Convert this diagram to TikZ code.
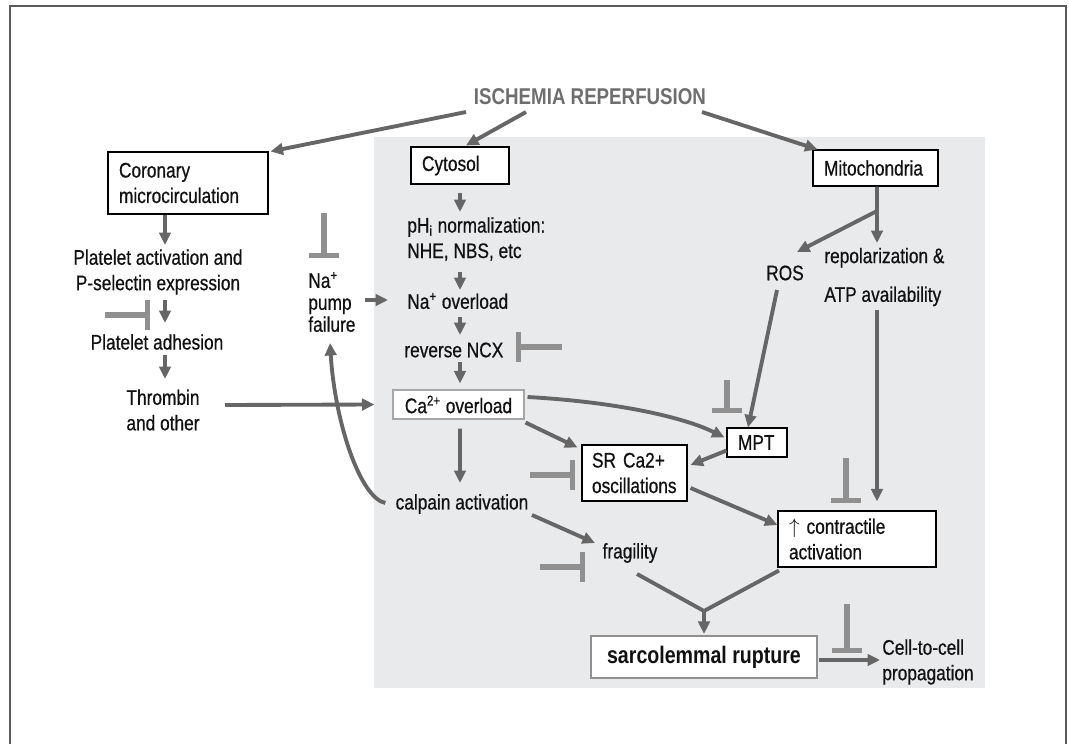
\documentclass[tikz,border=0pt]{standalone}
\usepackage{fontspec}
\setmainfont{Liberation Sans}[FakeStretch=0.82,UprightFeatures={FakeBold=0.6}]
\usetikzlibrary{arrows.meta}
\definecolor{irgray}{HTML}{666666}
\definecolor{irblock}{HTML}{909090}
\definecolor{irbg}{HTML}{E9EAEC}
\definecolor{irtitle}{HTML}{6E6E6E}
\definecolor{irframe}{HTML}{5A5A5A}
\definecolor{irtext}{HTML}{111111}

\begin{document}
\begin{tikzpicture}[x=0.02cm,y=-0.02cm,
    box/.style={draw=black,line width=0.6pt,fill=white,align=left,inner xsep=0.22cm,inner ysep=0pt,
      text=irtext,font=\fontsize{12}{14.5}\selectfont},
    lbl/.style={inner sep=0pt,text=irtext,font=\fontsize{12}{14.5}\selectfont},
    arr/.style={-{Triangle[length=2.5mm,width=2.3mm]},line width=2.2pt,draw=irgray},
    inh/.style={-{Bar[width=6mm]},line width=3pt,draw=irblock}]
  \useasboundingbox (0,0) rectangle (1069,744);
  \fill[irbg] (374,137) rectangle (985,688);
  \draw[irframe,line width=1.2pt] (10,744) -- (10,6) -- (1066,6) -- (1066,744);

  \node[lbl,font=\fontsize{13}{15}\selectfont\bfseries,text=irtitle] (title) at (590,97) {ISCHEMIA REPERFUSION};
  \node[box,text width=2.76cm,minimum height=1.24cm] (cor) at (188,183) {Coronary\\microcirculation};
  \node[box,text width=1.52cm,minimum height=0.74cm] (cyt) at (460,165.5) {Cytosol};
  \node[box,text width=2.06cm,minimum height=0.72cm] (mito) at (875.5,168) {Mitochondria};
  \node[lbl,align=center] (plact) at (158,272) {Platelet activation and\\P-selectin expression};
  \node[lbl] (padh) at (157,342) {Platelet adhesion};
  \node[lbl,align=center] (thromb) at (163,410) {Thrombin\\and other};
  \node[lbl,align=left,anchor=west,font=\fontsize{12}{12.5}\selectfont] (napump) at (308,302) {Na\textsuperscript{+}\\pump\\failure};
  \node[lbl,align=left,anchor=west] (phi) at (407,239) {pH\textsubscript{i} normalization:\\NHE, NBS, etc};
  \node[lbl,anchor=west] (naover) at (407,301) {Na\textsuperscript{+} overload};
  \node[lbl,anchor=west] (ncx) at (404,350) {reverse NCX};
  \node[box,draw=irblock!80,align=center,inner xsep=0pt,minimum width=2.62cm,minimum height=0.58cm] (caover) at (458.5,404.5) {Ca\textsuperscript{2+} overload};
  \node[lbl] (calp) at (462,504) {calpain activation};
  \node[lbl] (ros) at (785,273) {ROS};
  \node[lbl,align=left,anchor=west] (repol) at (824,277) {repolarization \&\\[7.5pt]ATP availability};
  \node[box,text width=0.76cm,minimum height=0.58cm] (mpt) at (757,442.5) {MPT};
  \node[box,inner xsep=0.2cm,text width=1.7cm,minimum height=1.12cm] (srca) at (634.5,473) {SR Ca2+\\oscillations};
  \node[box,text width=2.72cm,minimum height=1.12cm] (contr) at (857,539) {$\uparrow$ contractile\\activation};
  \node[lbl] (fragil) at (630,553) {fragility};
  \node[box,draw=irblock,line width=1.2pt,align=center,inner xsep=0pt,minimum width=4.52cm,minimum height=0.84cm,
    font=\fontsize{13.6}{16}\selectfont\bfseries] (sarc) at (704,657) {sarcolemmal rupture};
  \node[lbl,align=left,anchor=west] (cell) at (882,662) {Cell-to-cell\\propagation};
  \coordinate (mitobr) at (877,211);
  \coordinate (merge) at (704,611);

  \draw[arr] ([shift={(-124,15)}]title.center) -- ([shift={(2,0)}]cor.north east);
  \draw[arr] ([shift={(-64,15)}]title.center) -- ([shift={(6,-1)}]cyt.north);
  \draw[arr] ([shift={(112,15)}]title.center) -- ([shift={(5,0)}]mito.north west);
  \draw[arr] ([shift={(-23,0)}]cor.south) -- ([shift={(7,-27)}]plact.center);
  \draw[arr] ([shift={(7,28)}]plact.center) -- ([shift={(8,-19)}]padh.center);
  \draw[arr] ([shift={(8,13)}]padh.center) -- ([shift={(2,-31)}]thromb.center);
  \draw[arr] ([shift={(62,-5)}]thromb.center) -- ([shift={(-18,0)}]caover.west);
  \draw[arr] ([shift={(57,-2)}]napump.west) -- ([shift={(-19,-1)}]naover.west);
  \draw[arr] ([shift={(0,8)}]cyt.south) -- ([shift={(53,-27)}]phi.west);
  \draw[arr] ([shift={(53,33)}]phi.west) -- ([shift={(53,-11)}]naover.west);
  \draw[arr] ([shift={(53,16)}]naover.west) -- ([shift={(56,-15)}]ncx.west);
  \draw[arr] ([shift={(56,12)}]ncx.west) -- ([shift={(1.5,-6)}]caover.north);
  \draw[arr] ([shift={(1.5,9)}]caover.south) -- ([shift={(-2,-21)}]calp.center);
  \draw[arr] ([shift={(1,3)}]caover.south east) -- ([shift={(-4,3)}]srca.north west);
  \draw[arr] ([shift={(3,-7.5)}]caover.east) .. controls +(90,5) and +(-40,-20) .. ([shift={(-2,-5)}]mpt.west);
  \draw[arr] ([shift={(0,-7)}]mpt.south west) -- ([shift={(3,-8)}]srca.east);
  \draw[arr] ([shift={(-10,-1)}]calp.west) .. controls +(-25,-5) and +(5,80) .. ([shift={(22,41)}]napump.west);
  \draw[arr] ([shift={(1.5,0)}]mito.south) -- ([shift={(53,-34)}]repol.west);
  \draw[arr] (mitobr) -- ([shift={(12,-21)}]ros.center);
  \draw[arr] ([shift={(-8,17)}]ros.center) -- ([shift={(-9,0)}]mpt.north);
  \draw[arr] ([shift={(53,33)}]repol.west) -- ([shift={(20,-9)}]contr.north);
  \draw[arr] ([shift={(3,15)}]srca.east) -- ([shift={(0,-14)}]contr.west);
  \draw[arr] ([shift={(70,11)}]calp.center) -- ([shift={(-35,-10)}]fragil.center);
  \draw[arr,-] ([shift={(7,21)}]fragil.center) -- (merge) -- ([shift={(-78,3)}]contr.south);
  \draw[arr] (merge) -- ([shift={(0,-1)}]sarc.north);
  \draw[arr] ([shift={(1,3)}]sarc.east) -- ([shift={(-2,-2)}]cell.west);

  \draw[inh] (324,213) -- (324,258);
  \draw[inh] (105,315) -- (150,315);
  \draw[inh] (562,347) -- (516,347);
  \draw[inh] (530,475) -- (575,475);
  \draw[inh] (727,380) -- (727,413);
  \draw[inh] (846,458) -- (846,503);
  \draw[inh] (540,567) -- (585,567);
  \draw[inh] (847,604) -- (847,653);
\end{tikzpicture}
\end{document}
